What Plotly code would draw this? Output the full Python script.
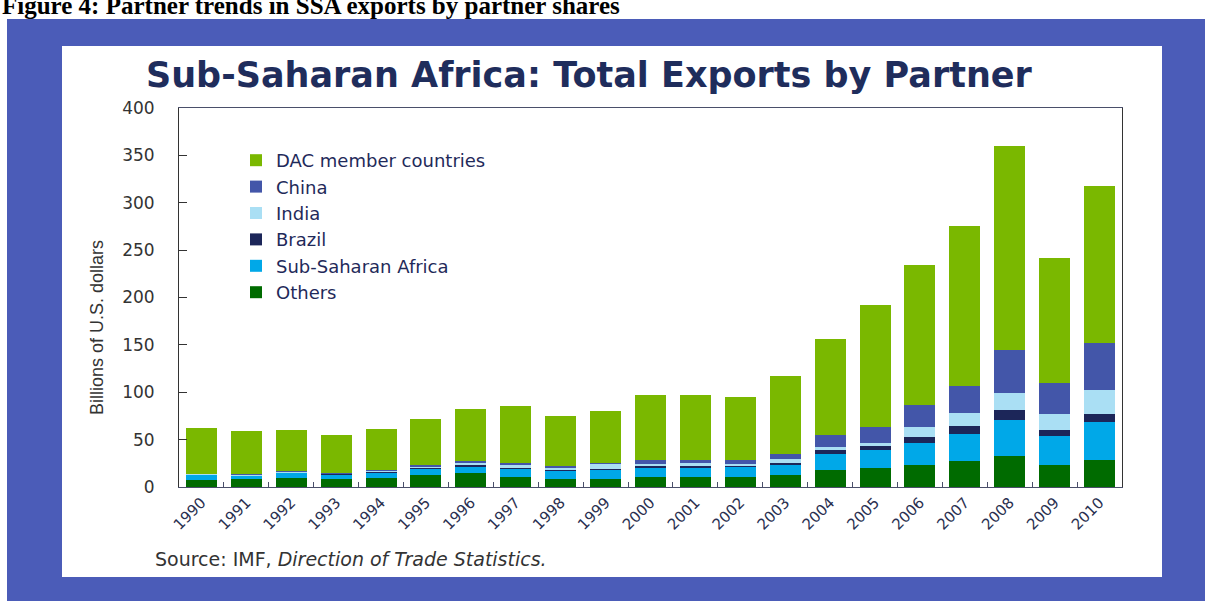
import plotly.graph_objects as go

years = ["1990", "1991", "1992", "1993", "1994", "1995", "1996", "1997", "1998", "1999",
         "2000", "2001", "2002", "2003", "2004", "2005", "2006", "2007", "2008", "2009", "2010"]

others = [7.1, 8.0, 9.8, 8.4, 9.8, 12.7, 14.4, 10.9, 8.4, 8.8,
          10.9, 10.9, 10.9, 12.3, 17.9, 19.7, 23.2, 27.1, 32.4, 23.2, 28.9]
ssa = [6.0, 4.2, 5.7, 5.0, 5.7, 7.0, 7.7, 8.8, 8.8, 9.5,
       9.9, 9.9, 10.6, 11.3, 16.6, 19.7, 23.6, 29.2, 38.3, 30.6, 40.0]
brazil = [0.2, 0.2, 0.3, 0.4, 0.7, 1.0, 1.0, 0.8, 0.8, 0.7,
          1.0, 1.0, 1.0, 2.1, 4.9, 3.5, 6.3, 8.1, 11.0, 6.3, 8.6]
india = [0.6, 0.6, 0.8, 0.8, 0.8, 1.2, 2.4, 2.2, 2.8, 5.3,
         2.2, 3.7, 2.2, 3.5, 2.8, 3.5, 9.9, 14.1, 17.9, 16.9, 24.6]
china = [0.3, 0.2, 0.4, 0.6, 0.6, 1.3, 1.5, 2.5, 1.2, 1.4,
         4.5, 3.5, 4.3, 6.0, 12.4, 17.2, 23.5, 28.1, 45.0, 32.4, 49.5]
dac = [47.8, 45.8, 43.0, 39.8, 43.4, 48.6, 55.0, 60.6, 53.2, 54.5,
       68.3, 68.5, 66.3, 82.3, 101.3, 128.4, 147.8, 169.2, 215.3, 131.9, 166.4]

series = [
    ("Others", others, "#006B00"),
    ("Sub-Saharan Africa", ssa, "#00A8E8"),
    ("Brazil", brazil, "#1C2659"),
    ("India", india, "#AADFF4"),
    ("China", china, "#4356A9"),
    ("DAC member countries", dac, "#7AB800"),
]

W, H = 1205, 601
L, R, T, B = 179, 1122, 108, 487


def px(x):
    return (x - L) / (R - L)


def py(y):
    return (B - y) / (B - T)


fig = go.Figure()
for name, vals, col in series:
    fig.add_trace(go.Bar(x=years, y=vals, name=name, marker_color=col,
                         marker_line_width=0))

fig.update_layout(
    width=W, height=H,
    margin=dict(l=L, r=W - R, t=T, b=H - B, pad=0),
    barmode="stack", bargap=0.31,
    paper_bgcolor="white", plot_bgcolor="white",
    showlegend=True,
    legend=dict(x=px(236), y=py(142), xanchor="left", yanchor="top",
                traceorder="reversed",
                font=dict(family="DejaVu Sans", size=18, color="#1F2A5A"),
                bgcolor="rgba(0,0,0,0)", itemwidth=30),
    font=dict(family="DejaVu Sans", color="#333333"),
)

fig.update_xaxes(
    showline=True, linecolor="#4A4F6A", linewidth=1, mirror=True,
    ticks="inside", tickson="boundaries", ticklen=5, tickcolor="#4A4F6A",
    tickangle=-45, tickfont=dict(family="DejaVu Sans", size=15, color="#2A3050"),
    showgrid=False,
)
fig.update_yaxes(
    range=[0, 400], dtick=50, showline=True, linecolor="#333333", linewidth=1,
    mirror=True, ticks="inside", ticklen=8, tickcolor="#333333",
    tickfont=dict(family="DejaVu Sans", size=17, color="#333333"),
    ticklabelstandoff=20, showgrid=False, zeroline=False,
)

shapes = [
    dict(type="rect", xref="paper", yref="paper", x0=px(7), x1=px(1210), y0=py(606), y1=py(19),
         fillcolor="#4B5CB8", line_width=0, layer="below"),
    dict(type="rect", xref="paper", yref="paper", x0=px(62), x1=px(1162), y0=py(577), y1=py(46),
         fillcolor="white", line_width=0, layer="below"),
]
fig.update_layout(shapes=shapes)

annotations = [
    dict(text="<b>Figure 4: Partner trends in SSA exports by partner shares</b>",
         x=px(0), y=py(21), xref="paper", yref="paper", xanchor="left", yanchor="bottom",
         showarrow=False, font=dict(family="Liberation Serif", size=25, color="black")),
    dict(text="<b>Sub-Saharan Africa: Total Exports by Partner</b>",
         x=px(589), y=py(75), xref="paper", yref="paper", xanchor="center", yanchor="middle",
         showarrow=False, font=dict(family="DejaVu Sans", size=35, color="#1F2D5C")),
    dict(text="Billions of U.S. dollars", textangle=-90,
         x=px(97), y=py(328), xref="paper", yref="paper", xanchor="center", yanchor="middle",
         showarrow=False, font=dict(family="Liberation Sans", size=18, color="#333333")),
    dict(text="Source: IMF, <i>Direction of Trade Statistics.</i>",
         x=px(153), y=py(559), xref="paper", yref="paper", xanchor="left", yanchor="middle",
         showarrow=False, font=dict(family="DejaVu Sans", size=19, color="#333333")),
]
fig.update_layout(annotations=annotations)

fig.write_html("out.html")
